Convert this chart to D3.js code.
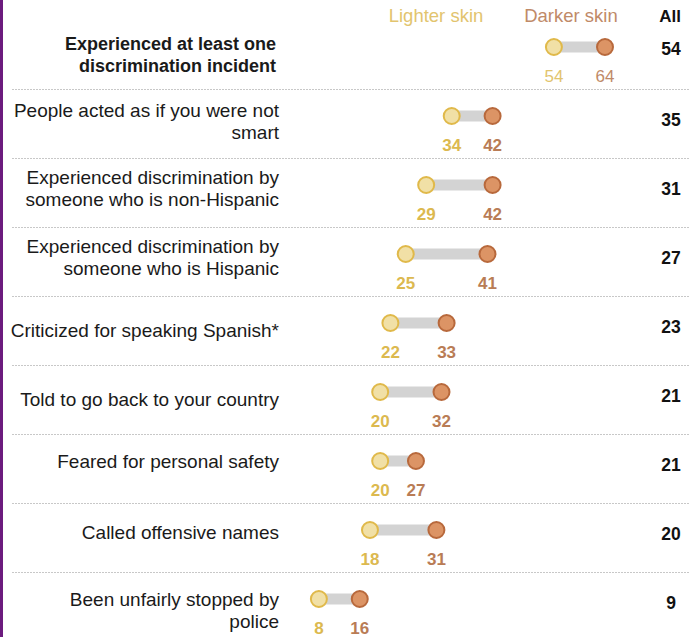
<!DOCTYPE html>
<html><head><meta charset="utf-8">
<script src="https://cdn.jsdelivr.net/npm/d3@7"></script>
<style>body{margin:0;background:#fff;} svg{display:block;}</style>
</head><body>
<svg id="c" width="690" height="637"></svg>
<script>
const categories = [
  ["Experienced at least one", "discrimination incident"],
  ["People acted as if you were not", "smart"],
  ["Experienced discrimination by", "someone who is non-Hispanic"],
  ["Experienced discrimination by", "someone who is Hispanic"],
  ["Criticized for speaking Spanish*"],
  ["Told to go back to your country"],
  ["Feared for personal safety"],
  ["Called offensive names"],
  ["Been unfairly stopped by", "police"]
];
const lighter = [54, 34, 29, 25, 22, 20, 20, 18, 8];
const darker  = [64, 42, 42, 41, 33, 32, 27, 31, 16];
const allVals = [54, 35, 31, 27, 23, 21, 21, 20, 9];
const seriesNames = ["Lighter skin", "Darker skin", "All"];

const svg = d3.select("#c");
const font = "'Liberation Sans', Arial, sans-serif";
const lightCol = "#dcb94f", darkCol = "#b97c55";

// left purple edge
svg.append("rect").attr("x",0).attr("y",0).attr("width",3).attr("height",637).attr("fill","#6c1b7e");

const x = d3.scaleLinear().domain([0, 64]).range([278, 605]);
const y = d3.scalePoint().domain(d3.range(categories.length)).range([47, 599]);
const labelShift = [8, 6, 4, 4, 8, 8, 1, 3, 12];

// header
svg.append("text").attr("x", 436).attr("y", 22).attr("text-anchor","middle")
  .attr("font-family", font).attr("font-size", 18.5).attr("fill", "#e2c46e").text(seriesNames[0]);
svg.append("text").attr("x", 571).attr("y", 22).attr("text-anchor","middle")
  .attr("font-family", font).attr("font-size", 18.5).attr("fill", "#c08a68").text(seriesNames[1]);
svg.append("text").attr("x", 670).attr("y", 22).attr("text-anchor","middle")
  .attr("font-family", font).attr("font-size", 17).attr("font-weight","bold").attr("fill", "#111").text(seriesNames[2]);

// separators
const seps = d3.range(categories.length - 1);
svg.selectAll("line.sep").data(seps).join("line").attr("class","sep")
  .attr("x1", 12).attr("x2", 690)
  .attr("y1", i => (y(i) + y(i+1)) / 2 + 8).attr("y2", i => (y(i) + y(i+1)) / 2 + 8)
  .attr("stroke", "#c8c8c8").attr("stroke-width", 1).attr("stroke-dasharray", "2,1");

const rows = svg.selectAll("g.row").data(categories).join("g").attr("class","row");

// labels
rows.each(function(lines, i) {
  const g = d3.select(this);
  const n = lines.length;
  const t = g.append("text").attr("text-anchor","end")
    .attr("font-family", font)
    .attr("font-size", i === 0 ? 18 : 19)
    .attr("font-weight", i === 0 ? "bold" : "normal")
    .attr("fill", "#1a1a1a");
  lines.forEach((ln, k) => {
    t.append("tspan").attr("x", i === 0 ? 276 : 279)
      .attr("y", y(i) + labelShift[i] + (k - (n - 1) / 2) * 22.5 + 6)
      .text(ln);
  });
});

// connectors
rows.append("line")
  .attr("x1", (d,i) => x(lighter[i])).attr("x2", (d,i) => x(darker[i]))
  .attr("y1", (d,i) => y(i)).attr("y2", (d,i) => y(i))
  .attr("stroke", "#d3d3d3").attr("stroke-width", 11);

rows.append("circle").attr("cx", (d,i) => x(lighter[i])).attr("cy", (d,i) => y(i)).attr("r", 8)
  .attr("fill", "#f1e0a6").attr("stroke", "#e0b94a").attr("stroke-width", 2);
rows.append("circle").attr("cx", (d,i) => x(darker[i])).attr("cy", (d,i) => y(i)).attr("r", 8)
  .attr("fill", "#dc9465").attr("stroke", "#b8693c").attr("stroke-width", 2);

// value labels
rows.append("text").attr("x", (d,i) => x(lighter[i])).attr("y", (d,i) => y(i) + 35)
  .attr("text-anchor","middle").attr("font-family", font).attr("font-size", 17)
  .attr("font-weight", (d,i) => i === 0 ? "normal" : "bold")
  .attr("fill", (d,i) => i === 0 ? "#e2c46e" : lightCol).text((d,i) => lighter[i]);
rows.append("text").attr("x", (d,i) => x(darker[i])).attr("y", (d,i) => y(i) + 35)
  .attr("text-anchor","middle").attr("font-family", font).attr("font-size", 17)
  .attr("font-weight", (d,i) => i === 0 ? "normal" : "bold")
  .attr("fill", (d,i) => i === 0 ? "#c08a68" : darkCol).text((d,i) => darker[i]);

// All column
rows.append("text").attr("x", 671).attr("y", (d,i) => y(i) + 8 + (i === 0 ? 0 : 2))
  .attr("text-anchor","middle").attr("font-family", font).attr("font-size", 17.5)
  .attr("font-weight","bold").attr("fill", "#111").text((d,i) => allVals[i]);
</script>
</body></html>
